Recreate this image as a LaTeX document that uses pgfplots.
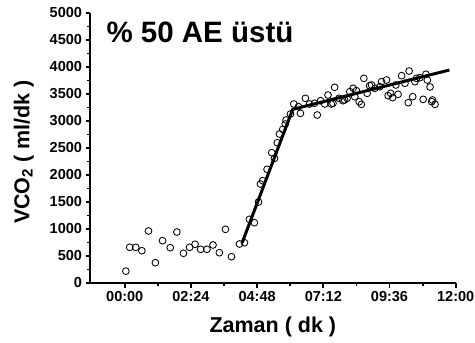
\documentclass[border=0pt]{standalone}
\usepackage{fontspec}
\setmainfont{Liberation Sans}
\usepackage{pgfplots}
\pgfplotsset{compat=1.18}

% VCO2 samples: time in minutes, VCO2 in ml/dk
\pgfplotstableread{
t     v
0.04  220
0.18  661
0.40  661
0.62  598
0.86  963
1.11  376
1.37  783
1.65  654
1.89  944
2.13  550
2.35  661
2.55  717
2.75  624
2.98  624
3.20  704
3.43  561
3.65  994
3.87  487
4.16  722
4.34  746
4.52  1179
4.70  1117
4.85  1500
4.92  1833
5.00  1895
5.16  2105
5.33  2413
5.43  2309
5.53  2598
5.61  2759
5.73  2846
5.82  2944
5.85  3019
6.01  3130
6.13  3315
6.30  3265
6.37  3142
6.55  3420
6.70  3315
6.88  3328
6.98  3111
7.10  3376
7.25  3315
7.37  3481
7.49  3315
7.55  3328
7.61  3624
7.77  3420
7.91  3376
7.97  3389
8.06  3420
8.16  3543
8.28  3605
8.34  3450
8.40  3561
8.50  3357
8.58  3309
8.67  3790
8.79  3513
8.88  3654
8.95  3667
9.07  3605
9.25  3635
9.31  3728
9.49  3759
9.55  3469
9.64  3513
9.71  3432
9.83  3667
9.91  3494
10.04 3839
10.16 3698
10.28 3339
10.31 3926
10.44 3450
10.52 3728
10.58 3790
10.70 3802
10.82 3401
10.92 3865
10.97 3759
11.07 3630
11.13 3357
11.16 3389
11.25 3309
}\vcodata

\begin{document}
\begin{tikzpicture}
\begin{axis}[
  scale only axis, width=365.7pt, height=270pt,
  axis x line*=bottom, axis y line*=left,
  axis line style={line width=2.2pt, -},
  xmin=-1.26, xmax=12, ymin=0, ymax=5000,
  xtick={0,2.4,4.8,7.2,9.6,12},
  xticklabels={00:00,02:24,04:48,07:12,09:36,12:00},
  minor xtick={1.2,3.6,6,8.4,10.8},
  ytick={0,500,...,5000},
  minor ytick={250,750,...,4750},
  tick align=outside,
  major tick length=4.5pt, minor tick length=3pt,
  every tick/.style={line width=1.8pt, black},
  /pgf/number format/1000 sep={},
  /pgf/number format/assume math mode=true,
  ticklabel style={font=\fontsize{14.5}{16}\selectfont\bfseries},
  xlabel={Zaman ( dk )},
  ylabel={VCO\textsubscript{2} ( ml/dk )},
  label style={font=\fontsize{21.5}{24}\selectfont\bfseries},
  xlabel style={at={(axis description cs:0.5,-0.163)}, anchor=center},
  ylabel style={at={(axis description cs:-0.181,0.485)}, anchor=center},
  clip=false,
]
\addplot[only marks, mark=o, mark size=3.4pt,
  mark options={line width=0.85pt, black}] table[x=t, y=v] {\vcodata};
% two-segment fit
\addplot[line width=3pt, black] coordinates {(4.26,750) (6.09,3216) (11.77,3944)};
\node[anchor=base west, font=\fontsize{29.5}{32}\selectfont\bfseries]
  at (axis description cs:0.0355,0.89) {\% 50 AE üstü};
\end{axis}
\pgfresetboundingbox
\path[use as bounding box] ([shift={(-90pt,-59pt)}]current axis.south west)
  rectangle ([shift={(19.3pt,13pt)}]current axis.north east);
\end{tikzpicture}
\end{document}
